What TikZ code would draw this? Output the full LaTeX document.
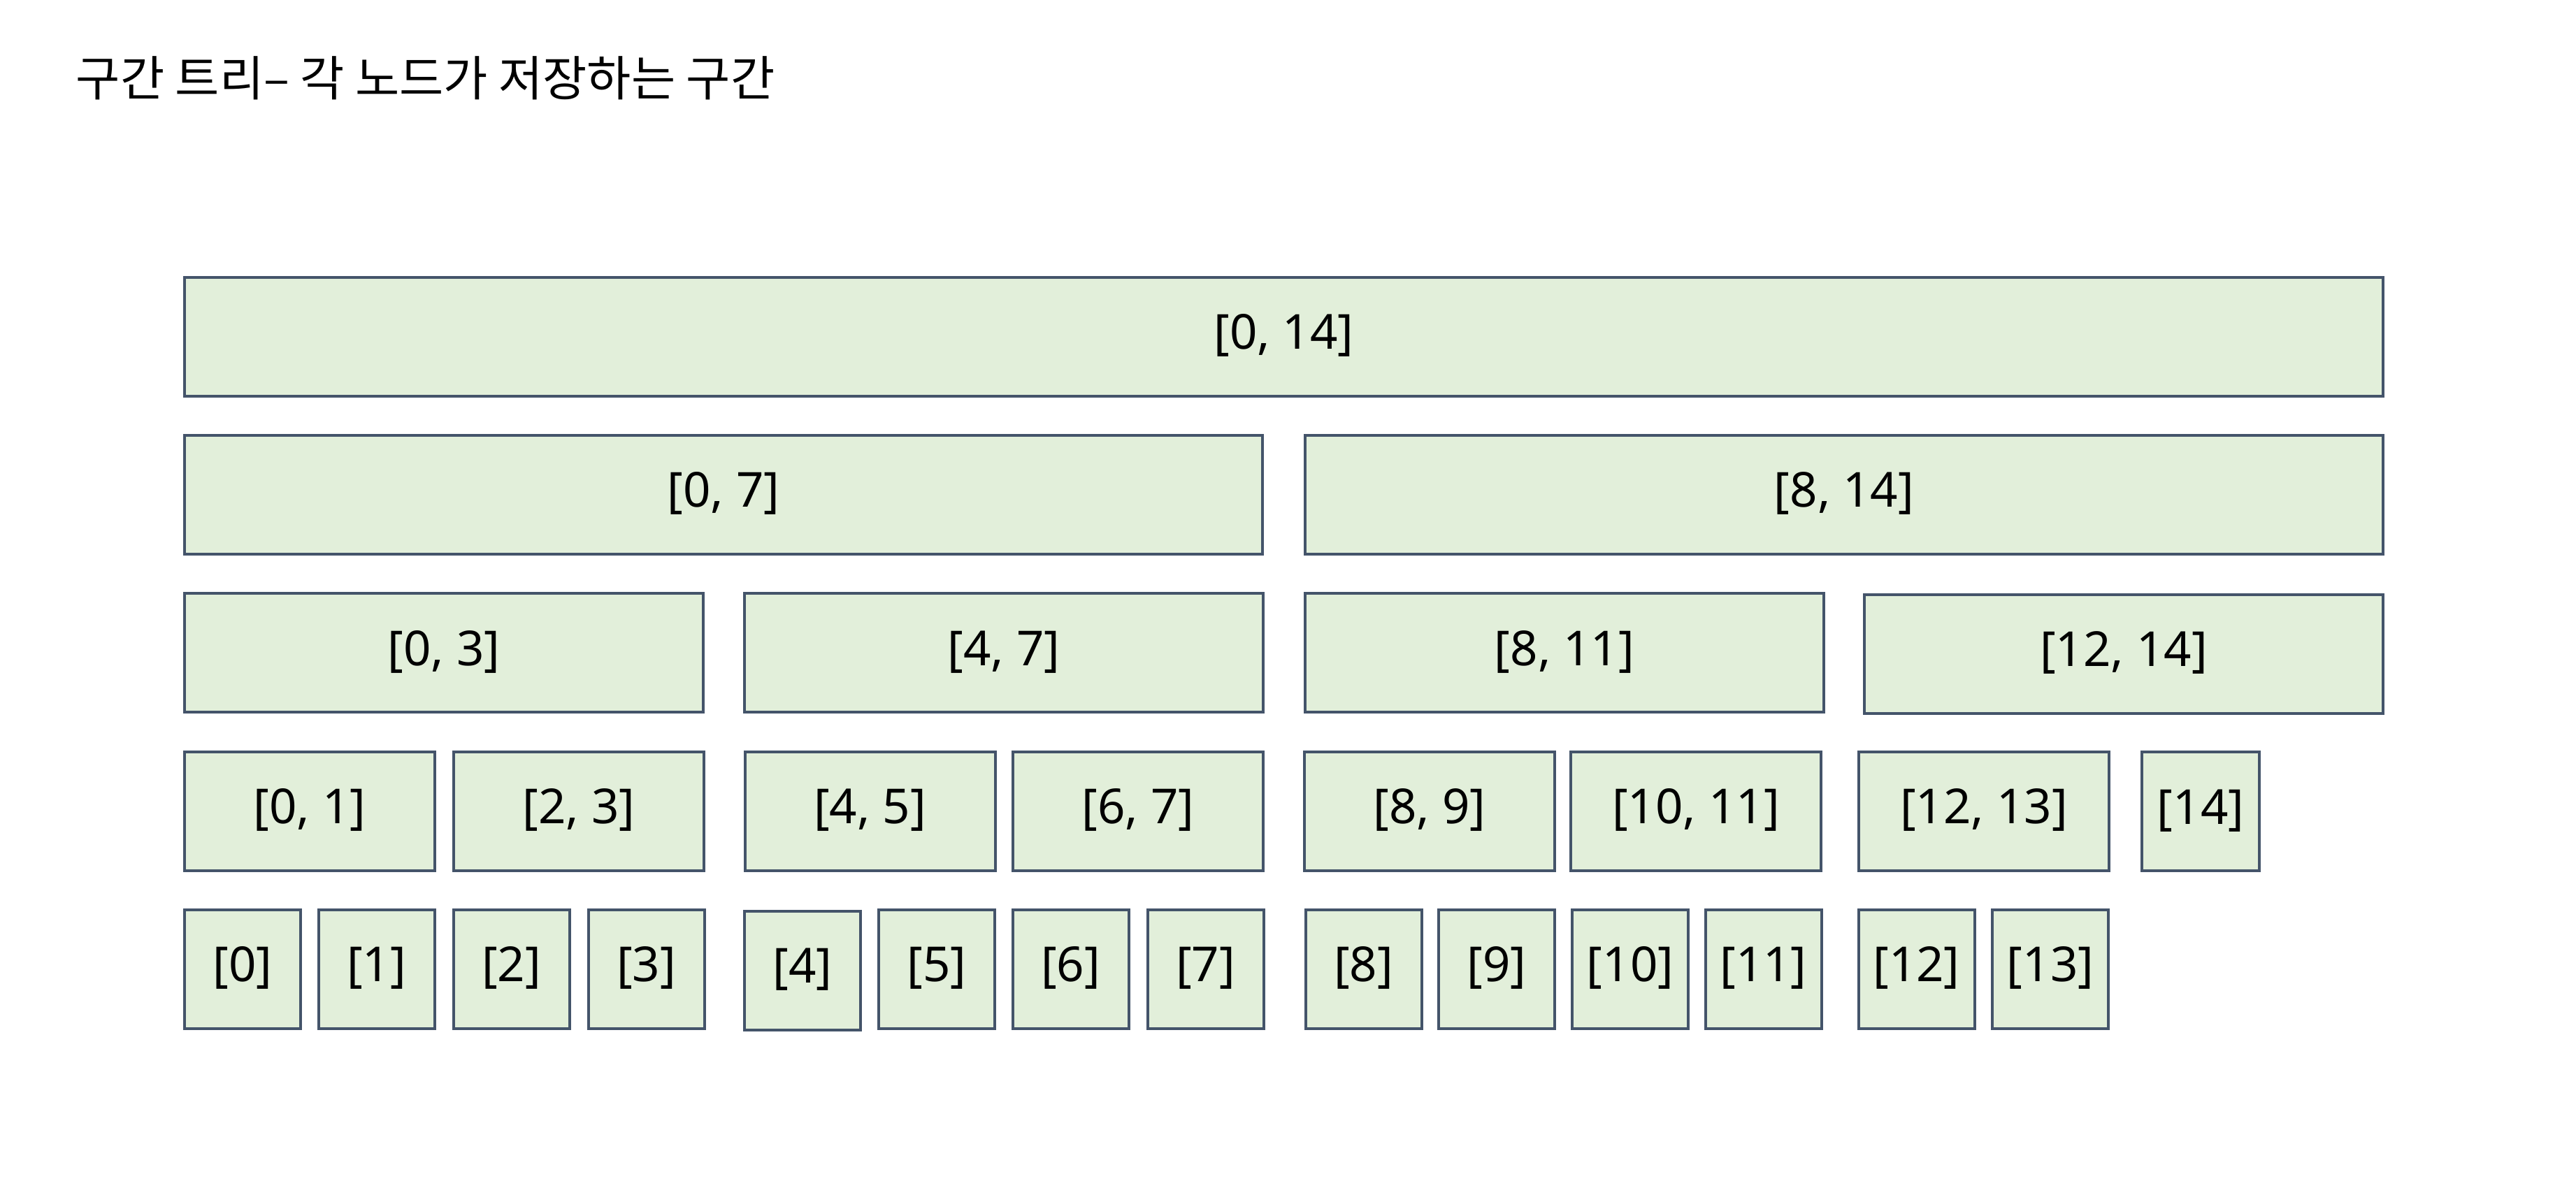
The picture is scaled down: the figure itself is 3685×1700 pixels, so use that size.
\documentclass[tikz,border=0pt]{standalone}
\usepackage{fontspec}
\setmainfont{Noto Sans}
\newfontfamily\krfont{Noto Sans CJK KR}
\definecolor{segline}{HTML}{44546A}
\definecolor{segfill}{HTML}{E2EFDA}
\begin{document}
\begin{tikzpicture}[x=0.2pt,y=-0.2pt,
  seg/.style={draw=segline,fill=segfill,line width=0.8pt,inner sep=0pt,
    minimum height=34pt,text height=9.9pt,text depth=2.8pt,
    font=\fontsize{13.8pt}{16pt}\selectfont},
  leaf/.style={seg,minimum width=33.2pt},
  pair/.style={seg,minimum width=71.6pt},
  quad/.style={seg,minimum width=148.4pt},
  half/.style={seg,minimum width=308.4pt}]
\useasboundingbox (0,0) rectangle (3685,1700);
\node (title) [anchor=west,inner sep=0pt,font=\krfont\fontsize{13.75pt}{16pt}\selectfont] at (108,112) {구간 트리– 각 노드가 저장하는 구간};
% root
\node (n0to14) [seg,minimum width=629pt] at (1836.5,482) {[0, 14]};
% halves
\node (n0to7) [half] at (1035,708) {[0, 7]};
\node (n8to14) [half] at (2638,708) {[8, 14]};
% quarters
\node (n0to3) [quad] at (635,934.5) {[0, 3]};
\node (n4to7) [quad] at (1436,934.5) {[4, 7]};
\node (n8to11) [quad] at (2238,934.5) {[8, 11]};
\node (n12to14) [quad] at (3038,936) {[12, 14]};
% pairs
\node (n0to1) [pair] at (443,1161) {[0, 1]};
\node (n2to3) [pair] at (828,1161) {[2, 3]};
\node (n4to5) [pair] at (1244.5,1161) {[4, 5]};
\node (n6to7) [pair] at (1628,1161) {[6, 7]};
\node (n8to9) [pair] at (2045,1161) {[8, 9]};
\node (n10to11) [pair] at (2426,1161) {[10, 11]};
\node (n12to13) [pair] at (2838,1161) {[12, 13]};
\node (n14) [seg,minimum width=33.6pt] at (3148,1161.5) {[14]};
% leaves
\node (n0) [leaf] at (347,1387) {[0]};
\node (n1) [leaf] at (538.5,1387) {[1]};
\node (n2) [leaf] at (731.5,1387) {[2]};
\node (n3) [leaf] at (924.5,1387) {[3]};
\node (n4) [leaf] at (1148,1389) {[4]};
\node (n5) [leaf] at (1340,1387) {[5]};
\node (n6) [leaf] at (1531.5,1387) {[6]};
\node (n7) [leaf] at (1724.5,1387) {[7]};
\node (n8) [leaf] at (1950.5,1387) {[8]};
\node (n9) [leaf] at (2141,1387) {[9]};
\node (n10) [leaf] at (2332,1387) {[10]};
\node (n11) [leaf] at (2522.5,1387) {[11]};
\node (n12) [leaf] at (2741.5,1387) {[12]};
\node (n13) [leaf] at (2933,1387) {[13]};
\end{tikzpicture}
\end{document}
